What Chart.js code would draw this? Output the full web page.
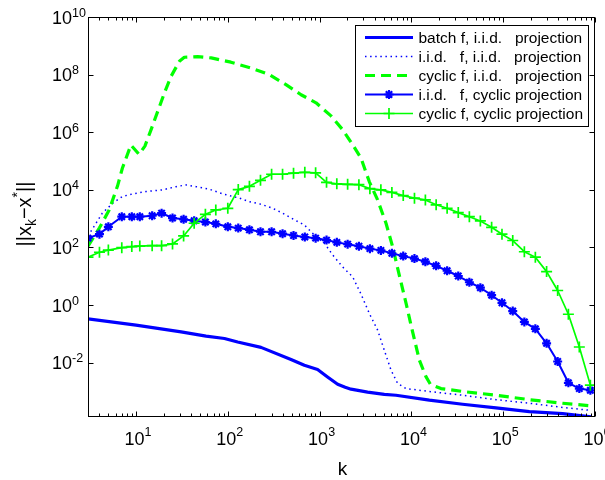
<!DOCTYPE html>
<html><head><meta charset="utf-8">
<script src="https://cdn.jsdelivr.net/npm/chart.js@4.4.1/dist/chart.umd.min.js"></script>
<style>html,body{margin:0;padding:0;background:#fff;}#wrap{width:605px;height:480px;}</style>
</head><body><div id="wrap"><canvas id="c" width="605" height="480"></canvas></div>
<script>
// ---- data ----
const seriesLabels = [
  'batch f, i.i.d.   projection',
  'i.i.d.   f, i.i.d.   projection',
  'cyclic f, i.i.d.   projection',
  'i.i.d.   f, cyclic projection',
  'cyclic f, cyclic projection'
];
const xLabel = 'k';
const xTickExps = [1, 2, 3, 4, 5, 6];
const yTickExps = [-2, 0, 2, 4, 6, 8, 10];

const kBatch = [3, 10, 31, 58, 92, 128, 230, 488, 682, 951, 1220, 1572, 1900, 2198, 3334, 5070, 6790, 15670, 36100, 83500, 192800, 444000, 906000];
const batchVals = [0.33, 0.20, 0.117, 0.083, 0.069, 0.052, 0.034, 0.0129, 0.0081, 0.0058, 0.0032, 0.00178, 0.0014, 0.0012, 0.00095, 0.00079, 0.00074, 0.0005, 0.00036, 0.00027, 0.0002, 0.00017, 0.000132];

const kIidIid = [3, 4.3, 5.6, 7.1, 9.2, 12.8, 19.5, 27.3, 35, 45, 63, 88, 134, 172, 230, 308, 395, 531, 682, 877, 1127, 1387, 1783, 2291, 2826, 3483, 4285, 5070, 6000, 7080, 8750, 15670, 36100, 83500, 192800, 444000, 906000];
const iidIidVals = [251, 1550, 3470, 5890, 7240, 8710, 10000, 12900, 14800, 12900, 10500, 7240, 5130, 3890, 3160, 2290, 1550, 912, 603, 269, 141, 55, 21, 9.5, 2.4, 0.51, 0.135, 0.027, 0.0055, 0.0019, 0.00126, 0.001, 0.00074, 0.00052, 0.00039, 0.00028, 0.00022];

const kCycIid = [3, 4.0, 5.1, 6.3, 7.1, 8.8, 10.8, 12.5, 14.6, 17.2, 20.4, 24.1, 29.7, 33.6, 47, 66, 108, 179, 283, 430, 628, 915, 1331, 1782, 2291, 2826, 3483, 4285, 5290, 6240, 7080, 8750, 9910, 12200, 14450, 16100, 21000, 36100, 83500, 192800, 444000, 867000];
const cycIidVals = [112, 479, 2000, 13800, 56000, 360000, 170000, 330000, 1.23e6, 5.2e6, 2.3e7, 8.7e7, 2.9e8, 4.0e8, 4.2e8, 3.8e8, 2.7e8, 1.7e8, 1.0e8, 4.5e7, 2.0e7, 1.05e7, 3.7e6, 1.23e6, 3.7e5, 1.26e5, 1.9e4, 4470, 692, 107, 19, 1.15, 0.2, 0.0123, 0.0032, 0.00178, 0.00126, 0.001, 0.00074, 0.00052, 0.00039, 0.00032];

const kCyclicProj = [3, 4, 5, 7, 9, 11, 15, 19, 25, 33, 43, 57, 74, 100, 130, 172, 227, 300, 395, 520, 690, 905, 1190, 1540, 2020, 2680, 3530, 4650, 6130, 8150, 10800, 14200, 18600, 24500, 32400, 42800, 56400, 74800, 97000, 127000, 170000, 224000, 297000, 392000, 513000, 675000, 890000];
const iidCycVals = [210, 290, 520, 1170, 1170, 1170, 1260, 1550, 1050, 950, 850, 760, 660, 520, 470, 410, 350, 350, 300, 260, 230, 210, 180, 150, 130, 110, 91, 79, 63, 50, 41, 32, 23, 15.5, 10.2, 6.2, 4.0, 2.2, 1.2, 0.62, 0.26, 0.15, 0.047, 0.011, 0.002, 0.00126, 0.0011];
const cycCycVals = [46, 68, 81, 98, 107, 112, 115, 115, 132, 251, 692, 1410, 2000, 2290, 10200, 13200, 21400, 34700, 34700, 38000, 40700, 38900, 18200, 16200, 15500, 15100, 11000, 10000, 8130, 6310, 5130, 4470, 3020, 2290, 1620, 1170, 832, 501, 288, 174, 71, 46, 14.5, 3.2, 0.48, 0.035, 0.00166];

// ---- build ----
const BLUE = '#0000ff', GREEN = '#00ff00';
const FONT = '"Liberation Sans", Arial, Helvetica, sans-serif';
const pts = (xs, ys) => xs.map((x, i) => ({x: x, y: ys[i]}));

const datasets = [
  {label: seriesLabels[0], data: pts(kBatch, batchVals), borderColor: BLUE, borderWidth: 3.2, pointRadius: 0, order: 5},
  {label: seriesLabels[1], data: pts(kIidIid, iidIidVals), borderColor: BLUE, borderWidth: 1.5, borderDash: [1.5, 3.6], pointRadius: 0, order: 4},
  {label: seriesLabels[2], data: pts(kCycIid, cycIidVals), borderColor: GREEN, borderWidth: 3.2, borderDash: [10, 6], pointRadius: 0, order: 3},
  {label: seriesLabels[3], data: pts(kCyclicProj, iidCycVals), borderColor: BLUE, borderWidth: 2, pointStyle: 'star', pointRadius: 4.5, pointBorderWidth: 2.2, pointBorderColor: BLUE, pointBackgroundColor: BLUE, order: 2},
  {label: seriesLabels[4], data: pts(kCyclicProj, cycCycVals), borderColor: GREEN, borderWidth: 1.7, pointStyle: 'cross', pointRadius: 5.5, pointBorderWidth: 1.7, pointBorderColor: GREEN, pointBackgroundColor: GREEN, order: 1}
];
datasets.forEach(d => { d.fill = false; d.tension = 0; d.borderCapStyle = 'butt'; d.borderJoinStyle = 'round'; });

function supLabel(ctx, base, exp, x, baseY, align, bigPx, smallPx, rise) {
  ctx.font = bigPx + 'px ' + FONT;
  const wb = ctx.measureText(base).width;
  ctx.font = smallPx + 'px ' + FONT;
  const we = ctx.measureText(exp).width;
  let start;
  if (align === 'center') start = x - (wb + we) / 2;
  else start = x - wb;
  ctx.font = bigPx + 'px ' + FONT;
  ctx.fillText(base, start, baseY);
  ctx.font = smallPx + 'px ' + FONT;
  ctx.fillText(exp, start + wb, baseY - rise);
}

const matlabAxes = {
  id: 'matlabAxes',
  afterDatasetsDraw(chart) {
    const ctx = chart.ctx, a = chart.chartArea;
    const xs = chart.scales.x, ys = chart.scales.y;
    ctx.save();
    ctx.strokeStyle = '#000'; ctx.fillStyle = '#000'; ctx.lineWidth = 1; ctx.setLineDash([]);
    const L = Math.round(a.left) + 0.5, R = Math.round(a.right) - 0.5, T = Math.round(a.top) + 0.5, B = Math.round(a.bottom) - 0.5;
    ctx.beginPath();
    for (let d = 0; d <= 6; d++) {
      for (let m = 1; m <= 9; m++) {
        const v = m * Math.pow(10, d);
        if (v < xs.min || v > xs.max) continue;
        const px = Math.round(xs.getPixelForValue(v)) + 0.5;
        const len = m === 1 ? 5 : 3;
        ctx.moveTo(px, B); ctx.lineTo(px, B - len);
        ctx.moveTo(px, T); ctx.lineTo(px, T + len);
      }
    }
    yTickExps.forEach(e => {
      const py = Math.round(ys.getPixelForValue(Math.pow(10, e))) + 0.5;
      ctx.moveTo(L, py); ctx.lineTo(L + 5, py);
      ctx.moveTo(R, py); ctx.lineTo(R - 5, py);
    });
    ctx.stroke();
    ctx.strokeRect(L, T, R - L, B - T);

    ctx.textBaseline = 'alphabetic'; ctx.textAlign = 'left';
    xTickExps.forEach(e => {
      const px = xs.getPixelForValue(Math.pow(10, e));
      supLabel(ctx, '10', String(e), px + 2, 445, 'center', 18, 12.5, 9);
    });
    yTickExps.forEach(e => {
      const py = ys.getPixelForValue(Math.pow(10, e));
      supLabel(ctx, '10', String(e), 72, py + 6.5, 'split', 18, 12.5, 7);
    });

    ctx.font = '19px ' + FONT; ctx.textAlign = 'center';
    ctx.fillText(xLabel, (a.left + a.right) / 2 + 1, 475);

    ctx.save();
    ctx.translate(31, 214); ctx.rotate(-Math.PI / 2); ctx.textAlign = 'left';
    const parts = [['||x', 20, 0], ['k', 14, 5], ['\u2212x', 20, 0], ['*', 14, -9], ['||', 20, 0]];
    let w = 0; parts.forEach(p => { ctx.font = p[1] + 'px ' + FONT; w += ctx.measureText(p[0]).width; });
    let cx = -w / 2;
    parts.forEach(p => { ctx.font = p[1] + 'px ' + FONT; ctx.fillText(p[0], cx, p[2]); cx += ctx.measureText(p[0]).width; });
    ctx.restore();

    const bx = 355.5, by = 25.5, bw = 233, bh = 101;
    ctx.fillStyle = '#fff'; ctx.fillRect(bx, by, bw, bh);
    ctx.strokeStyle = '#000'; ctx.lineWidth = 1; ctx.strokeRect(bx, by, bw, bh);
    ctx.font = '15.5px ' + FONT; ctx.textAlign = 'left';
    chart.data.datasets.forEach((ds, i) => {
      const y = 37.5 + i * 19;
      ctx.save();
      ctx.strokeStyle = ds.borderColor; ctx.lineWidth = ds.borderWidth;
      ctx.setLineDash(ds.borderDash || []); ctx.lineCap = 'butt';
      ctx.beginPath(); ctx.moveTo(365, y); ctx.lineTo(413, y); ctx.stroke();
      ctx.setLineDash([]);
      if (ds.pointRadius > 0) {
        ctx.strokeStyle = ds.pointBorderColor; ctx.fillStyle = ds.pointBackgroundColor;
        ctx.lineWidth = ds.pointBorderWidth;
        Chart.helpers.drawPoint(ctx, {pointStyle: ds.pointStyle, radius: ds.pointRadius, borderWidth: ds.pointBorderWidth, rotation: 0}, 389, y);
      }
      ctx.restore();
      ctx.fillStyle = '#000';
      ctx.fillText(ds.label, 418.5, y + 5.5);
    });
    ctx.restore();
  }
};

new Chart(document.getElementById('c'), {
  type: 'line',
  data: {datasets: datasets},
  options: {
    responsive: false, animation: false, devicePixelRatio: 1,
    layout: {padding: {left: 0, right: 10, top: 17, bottom: 0}, autoPadding: false},
    plugins: {legend: {display: false}, tooltip: {enabled: false}},
    scales: {
      x: {type: 'logarithmic', min: 3, max: 1e6, bounds: 'data',
          ticks: {display: false}, grid: {display: false, drawTicks: false}, border: {display: false},
          afterFit(s) { s.height = 63; }},
      y: {type: 'logarithmic', min: 1.3e-4, max: 1e10, bounds: 'data',
          ticks: {display: false}, grid: {display: false, drawTicks: false}, border: {display: false},
          afterFit(s) { s.width = 88; }}
    }
  },
  plugins: [matlabAxes]
});
</script>
</body></html>
